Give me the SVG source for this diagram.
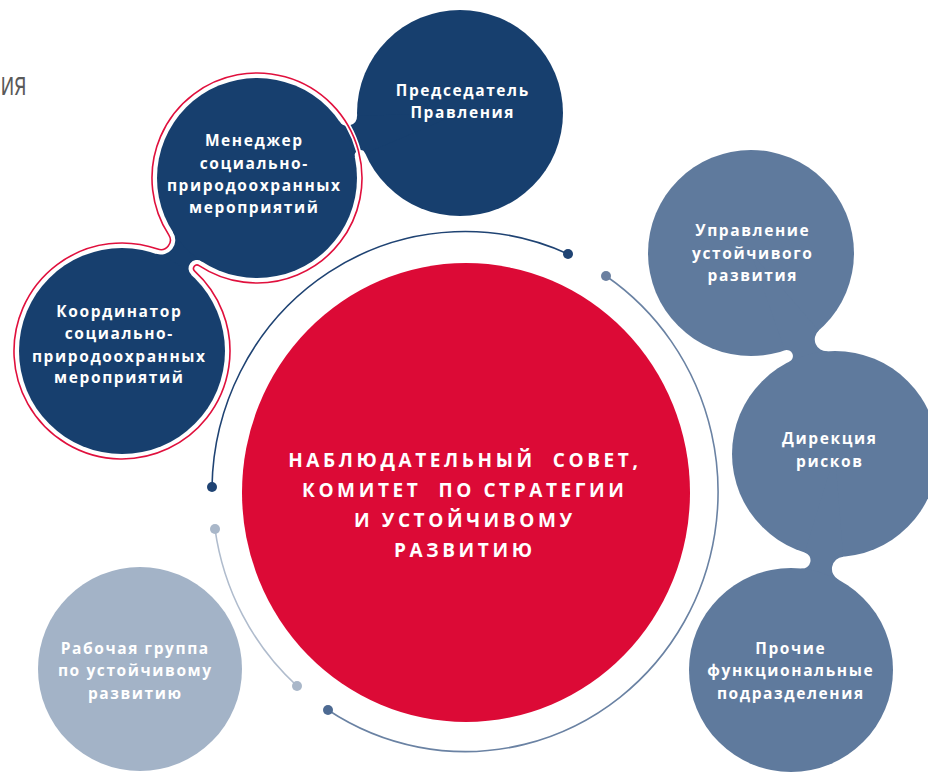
<svg xmlns="http://www.w3.org/2000/svg" width="928" height="772" viewBox="0 0 928 772">
<style>
.t{font-family:"Open Sans","Liberation Sans",sans-serif;font-weight:700;fill:#ffffff;text-anchor:middle;}
.n{font-size:15.5px;letter-spacing:1.6px;}
.m{font-size:19px;letter-spacing:3.6px;}
.navy{fill:#173f6e;}
.steel{fill:#5f7a9d;}
.light{fill:#a3b3c7;}
.ring{fill:none;stroke:#e0103d;stroke-width:1.6;}
.gap{fill:none;stroke:#ffffff;stroke-width:5;}
.arc{fill:none;stroke-width:1.6;}
.title{font-family:"Open Sans","Liberation Sans",sans-serif;font-weight:400;font-size:32px;fill:#595959;}
</style>
<rect width="928" height="772" fill="#ffffff"/>
<text class="title" x="0.5" y="95" textLength="26" lengthAdjust="spacingAndGlyphs">ия</text>

<g id="connectors">
  <path class="arc" stroke="#1f4373" d="M212,487 A253,260 0 0 1 568,254"/>
  <circle cx="212" cy="487" r="5" fill="#1f4373"/>
  <circle cx="568" cy="254" r="5" fill="#1f4373"/>
  <path class="arc" stroke="#6a82a3" d="M606,276 A253,260 0 0 1 684.1,622 A253,260 0 0 1 328,710"/>
  <circle cx="606" cy="276" r="5" fill="#6b80a0"/>
  <circle cx="328" cy="710" r="5" fill="#4d6a92"/>
  <path class="arc" stroke="#b0bccd" d="M215,529 A253,260 0 0 0 297,686"/>
  <circle cx="215" cy="529" r="5" fill="#a9b7c9"/>
  <circle cx="297" cy="686" r="5" fill="#a9b7c9"/>
</g>

<g id="node-chairman">
  <circle class="navy" cx="460" cy="113" r="103"/>
  <path class="navy" d="M460,113 L365.31,153.55 A5.57,5.57 0 0 0 354.75,156.91 L257,178 L339.43,121.39 A9.65,9.65 0 0 0 357.04,115.68 Z"/>
  <text class="t n"><tspan x="462.8" y="95.5">Председатель</tspan><tspan x="462.8" y="117.5">Правления</tspan></text>
</g>

<g id="node-manager">
  <path class="navy" d="M257,178 L201.82,261.40 A8.55,8.55 0 0 0 191.34,274.85 L122,351 L156.00,253.77 A14.5,14.5 0 0 0 172.97,232.22 Z"/>
  <circle class="navy" cx="257" cy="178" r="100"/>
  <path class="gap" d="M199.06,265.57 A105,105 0 1 0 168.77,234.93 A9.5,9.5 0 0 1 157.65,249.05 A108,108 0 1 0 194.71,271.15 A3.55,3.55 0 0 1 199.06,265.57 Z"/>
  <path class="ring" d="M199.06,265.57 A105,105 0 1 0 168.77,234.93 A9.5,9.5 0 0 1 157.65,249.05 A108,108 0 1 0 194.71,271.15 A3.55,3.55 0 0 1 199.06,265.57 Z"/>
  <text class="t n"><tspan x="254.3" y="145.5">Менеджер</tspan><tspan x="254.3" y="168.5">социально-</tspan><tspan x="254.3" y="190.5">природоохранных</tspan><tspan x="254.3" y="212.5">мероприятий</tspan></text>
</g>

<g id="node-coordinator">
  <circle class="navy" cx="122" cy="351" r="103"/>
  <text class="t n"><tspan x="119.3" y="317">Координатор</tspan><tspan x="119.3" y="339">социально-</tspan><tspan x="119.3" y="361.5">природоохранных</tspan><tspan x="119.3" y="383">мероприятий</tspan></text>
</g>

<g id="node-board">
  <ellipse cx="466" cy="492.5" rx="224" ry="229.5" fill="#dc0a36"/>
  <text class="t m" xml:space="preserve"><tspan x="464.8" y="467">НАБЛЮДАТЕЛЬНЫЙ  СОВЕТ,</tspan><tspan x="464.8" y="497">КОМИТЕТ  ПО СТРАТЕГИИ</tspan><tspan x="464.8" y="527">И УСТОЙЧИВОМУ</tspan><tspan x="464.8" y="557">РАЗВИТИЮ</tspan></text>
</g>

<g id="node-sustainability-dept">
  <circle class="steel" cx="751" cy="253" r="103"/>
  <path class="steel" d="M751,253 L818.83,330.51 A11.87,11.87 0 0 0 827.51,351.28 L835,454 L789.49,361.61 A6.14,6.14 0 0 0 784.77,350.30 Z"/>
  <text class="t n"><tspan x="752.8" y="236">Управление</tspan><tspan x="752.8" y="258.5">устойчивого</tspan><tspan x="752.8" y="280.5">развития</tspan></text>
</g>

<g id="node-risk">
  <circle class="steel" cx="835" cy="454" r="103"/>
  <path class="steel" d="M835,454 L843.21,556.67 A12.25,12.25 0 0 0 838.49,579.72 L791,670 L801.43,568.53 A8.25,8.25 0 0 0 804.70,552.44 Z"/>
  <text class="t n"><tspan x="829.8" y="444">Дирекция</tspan><tspan x="829.8" y="466.5">рисков</tspan></text>
</g>

<g id="node-other">
  <circle class="steel" cx="791" cy="670" r="102"/>
  <text class="t n"><tspan x="790.8" y="654">Прочие</tspan><tspan x="790.8" y="675.5">функциональные</tspan><tspan x="790.8" y="698.5">подразделения</tspan></text>
</g>

<g id="node-workgroup">
  <circle class="light" cx="140" cy="669" r="102"/>
  <text class="t n"><tspan x="135.3" y="654">Рабочая группа</tspan><tspan x="135.3" y="676">по устойчивому</tspan><tspan x="135.3" y="698.5">развитию</tspan></text>
</g>
</svg>
